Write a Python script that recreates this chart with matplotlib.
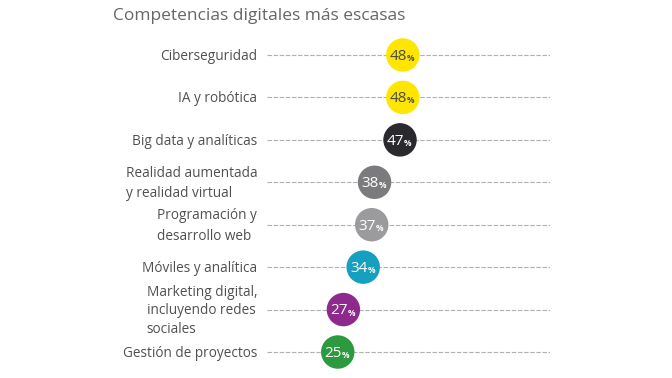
import matplotlib

matplotlib.use("Agg")

import matplotlib.pyplot as plt

categories = [
    "Ciberseguridad",
    "IA y robótica",
    "Big data y analíticas",
    "Realidad aumentada\ny realidad virtual",
    "Programación y\ndesarrollo web",
    "Móviles y analítica",
    "Marketing digital,\nincluyendo redes\nsociales",
    "Gestión de proyectos",
]
values = [48, 48, 47, 38, 37, 34, 27, 25]
colors = ["#ffe600", "#ffe600", "#2a2a2e", "#7b7b7d", "#9b9b9d", "#16a0c0", "#8e2a8e", "#2e9a40"]
text_colors = ["#4a4a4a", "#4a4a4a", "white", "white", "white", "white", "white", "white"]
line_spacing = [1.5, 1.5, 1.5, 1.5, 1.5, 1.5, 1.3, 1.5]

plt.rcParams["font.family"] = ["Open Sans", "DejaVu Sans"]

W, H = 672, 378
fig = plt.figure(figsize=(W / 100, H / 100), dpi=100)

# x: 0..100 -> px 267..550, rows at px 55..352
x0, x1 = 267, 550
row_top, row_step = 55, 42.43
top_px = row_top - 0.5 * row_step
bot_px = row_top + 7.5 * row_step
ax = fig.add_axes([x0 / W, 1 - bot_px / H, (x1 - x0) / W, (bot_px - top_px) / H])
ax.set_xlim(0, 100)
ax.set_ylim(len(categories) - 0.5, -0.5)
ax.axis("off")

rows = list(range(len(categories)))
for i in rows:
    ax.plot([0, 100], [i, i], color="#b0b0b0", lw=0.8, ls=(0, (4, 1.5)), zorder=1, solid_capstyle="butt")

ax.scatter(values, rows, s=580, c=colors, zorder=2, linewidths=0)

for i, (cat, v) in enumerate(zip(categories, values)):
    ax.annotate(cat, (0, i), xytext=(-7, -1), textcoords="offset points",
                ha="right", va="center", multialignment="left",
                fontsize=9.8, color="#505050", linespacing=line_spacing[i])
    ax.annotate(str(v), (v, i), xytext=(3, -1), textcoords="offset points",
                ha="right", va="center", fontsize=11, color=text_colors[i], zorder=3)
    ax.annotate("%", (v, i), xytext=(3, -2.5), textcoords="offset points",
                ha="left", va="center", fontsize=6, color=text_colors[i],
                fontweight="bold", zorder=3)

fig.text(113 / W, 1 - 16 / H, "Competencias digitales más escasas",
         ha="left", va="center", fontsize=12.5, color="#666666")

fig.savefig("out.png", dpi=100)
plt.close(fig)
